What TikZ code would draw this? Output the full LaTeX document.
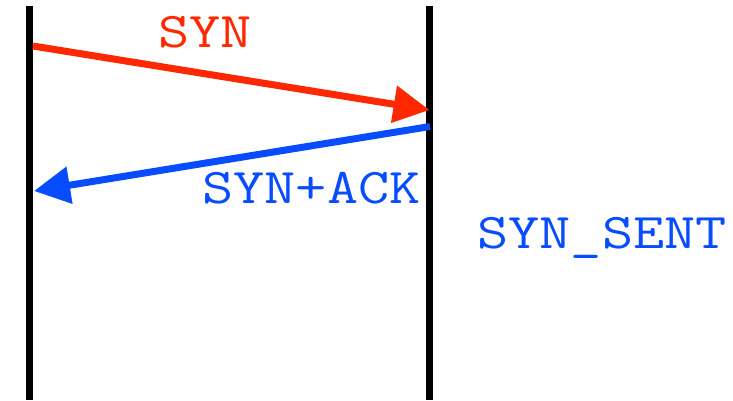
\documentclass[tikz,border=0pt]{standalone}
\usepackage{fontspec}
\usetikzlibrary{arrows.meta}
\definecolor{synred}{RGB}{255,40,0}
\definecolor{ackblue}{RGB}{8,76,255}
% wide typewriter lettering for the packet names
\newcommand{\pkt}[1]{\scalebox{1.21}[1]{\ttfamily\fontsize{50}{60}\selectfont\addfontfeature{FakeBold=2}#1}}
\begin{document}
\begin{tikzpicture}[x=1pt,y=-1pt,
  timeline/.style={line width=7pt,black},
  msg/.style={line width=7pt,-{Triangle[length=36pt,width=36pt]}},
  label/.style={inner sep=0pt,anchor=base}]
\useasboundingbox (0,0) rectangle (733,400);
% host timelines
\coordinate (htop) at (29.5,6);
\coordinate (hbot) at (29.5,400);
\coordinate (ctop) at (429.5,6);
\coordinate (cbot) at (429.5,400);
\draw[timeline] (htop) -- (hbot);
\draw[timeline] (ctop) -- (cbot);
% message endpoints
\coordinate (synS) at (33,46);
\coordinate (synE) at (429.5,110);
\coordinate (ackS) at (430,126.5);
\coordinate (ackE) at (34,191);
\draw[msg,synred] (synS) -- (synE);
\draw[msg,ackblue] (ackS) -- (ackE);
% labels
\node[label,text=synred] (syn) at (205,47) {\pkt{SYN}};
\node[label,text=ackblue] (synack) at (311.5,203) {\pkt{SYN+ACK}};
\node[label,text=ackblue] (state) at (602,248) {\pkt{SYN\_SENT}};
\end{tikzpicture}
\end{document}
